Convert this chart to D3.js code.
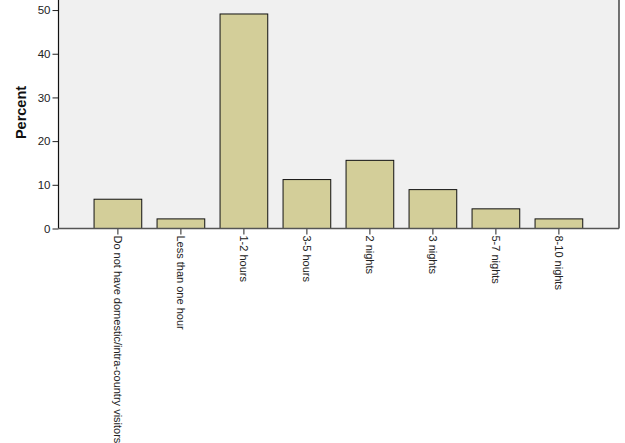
<!DOCTYPE html>
<html>
<head>
<meta charset="utf-8">
<script src="https://cdn.jsdelivr.net/npm/d3@7"></script>
<style>
  body { margin: 0; background: #fff; }
  svg { display: block; font-family: "Liberation Sans", Arial, sans-serif; }
</style>
</head>
<body>
<div id="graph"></div>
<script>
var categories = ["Do not have domestic/intra-country visitors", "Less than one hour", "1-2 hours",
  "3-5 hours", "2 nights", "3 nights", "5-7 nights", "8-10 nights"];
var percents = [6.7, 2.2, 49.1, 11.2, 15.6, 8.9, 4.5, 2.2];
var yTicks = [0, 10, 20, 30, 40, 50];

var width = 625;
var height = 443;
var plotLeft = 58.5;
var plotRight = 619;
var plotTop = 0;
var plotBottom = 228.5;

var svg = d3.select("#graph").
  append("svg").
  attr("width", width).
  attr("height", height);

var xScale = d3.scaleBand().
  domain(categories).
  range([86.4, 590.4]).
  paddingInner(0.243).
  paddingOuter(0.1215);

var yScale = d3.scaleLinear().
  domain([0, 52.3]).
  range([plotBottom, plotTop]);

// plot background
svg.append("rect").
  attr("x", plotLeft).
  attr("y", plotTop).
  attr("width", plotRight - plotLeft).
  attr("height", plotBottom - plotTop).
  style("fill", "#f0f0f0");

// right border
svg.append("line").
  attr("x1", plotRight).
  attr("x2", plotRight).
  attr("y1", plotTop).
  attr("y2", plotBottom).
  style("stroke", "#444").
  style("stroke-width", 1.5);

svg.selectAll("rect.bar").
  data(percents).
  enter().
  append("rect").
  attr("class", "bar").
  attr("x", function (d, i) {return xScale(categories[i]);}).
  attr("y", function (d) {return yScale(d);}).
  attr("width", xScale.bandwidth()).
  attr("height", function (d) {return yScale(0) - yScale(d);}).
  style("fill", "#d3ce99").
  style("stroke", "#111").
  style("stroke-width", 1);

var yAxis = d3.axisLeft(yScale).tickValues(yTicks).tickSize(6).tickPadding(2);
var gy = svg.append("g").
  attr("transform", "translate(" + plotLeft + ",0)").
  call(yAxis);
gy.select(".domain").remove();
gy.selectAll("line").style("stroke", "#222");
gy.selectAll("text").
  style("font-size", "11.5px").
  style("fill", "#222").
  style("font-family", "Liberation Sans, Arial, sans-serif");

svg.append("line").
  attr("x1", plotLeft).
  attr("x2", plotLeft).
  attr("y1", plotTop).
  attr("y2", plotBottom).
  style("stroke", "#111").
  style("stroke-width", 1.2);

var xAxis = d3.axisBottom(xScale).tickSize(6).tickSizeOuter(0);
var gx = svg.append("g").
  attr("transform", "translate(0," + plotBottom + ")").
  call(xAxis);
gx.select(".domain").remove();
gx.selectAll("line").style("stroke", "#222");
gx.selectAll("text").
  attr("transform", "rotate(90)").
  attr("x", 7).
  attr("y", 0).
  attr("dy", "0.35em").
  style("text-anchor", "start").
  style("font-size", "11px").
  style("fill", "#222").
  style("font-family", "Liberation Sans, Arial, sans-serif");

svg.append("line").
  attr("x1", plotLeft).
  attr("x2", plotRight).
  attr("y1", plotBottom).
  attr("y2", plotBottom).
  style("stroke", "#555").
  style("stroke-width", 1.5);

svg.append("text").
  attr("transform", "translate(26," + 112.5 + ") rotate(-90)").
  style("text-anchor", "middle").
  style("font-size", "14.5px").
  style("font-weight", "bold").
  style("fill", "#111").
  text("Percent");
</script>
</body>
</html>
